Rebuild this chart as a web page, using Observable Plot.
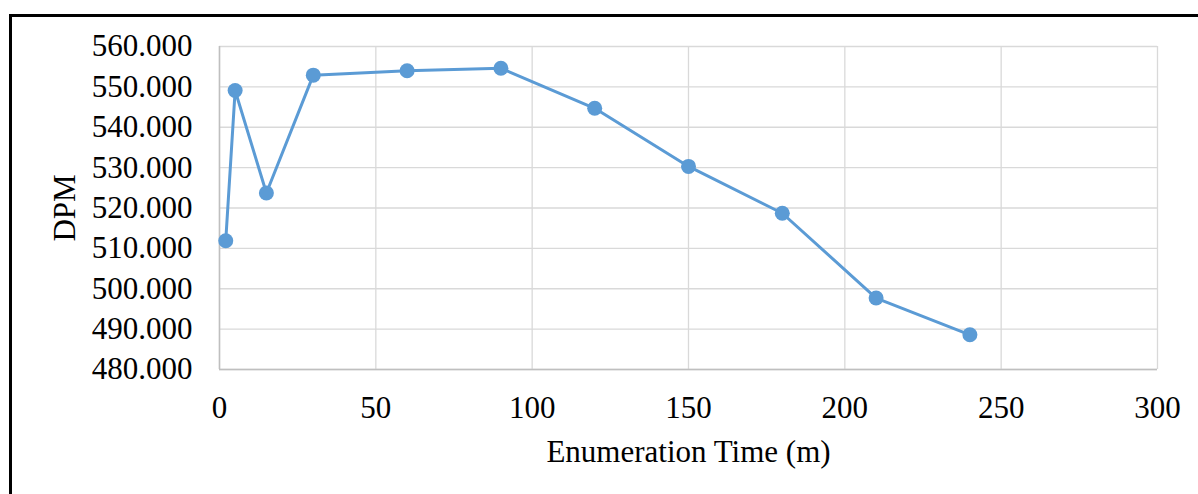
<!DOCTYPE html>
<html>
<head>
<meta charset="utf-8">
<script src="https://cdn.jsdelivr.net/npm/d3@7"></script>
<script src="https://cdn.jsdelivr.net/npm/@observablehq/plot@0.6"></script>
<style>
  html, body { margin: 0; padding: 0; background: #fff; overflow: hidden; }
  #wrap { position: relative; width: 1198px; height: 494px; overflow: hidden; }
  #frame { position: absolute; left: 9px; top: 14px; width: 3000px; height: 3000px;
           border-left: 3px solid #000; border-top: 3px solid #000; box-sizing: border-box; }
  #chart { position: absolute; left: 0; top: 0; }
  #chart svg text, #chart svg g { font-family: 'Liberation Serif', 'Times New Roman', serif !important; font-variant: normal !important; font-variant-numeric: normal !important; }
</style>
</head>
<body>
<div id="wrap"><div id="frame"></div><div id="chart"></div></div>
<script>
const times = [2, 5, 15, 30, 60, 90, 120, 150, 180, 210, 240];
const dpm = [511.9, 549.1, 523.7, 552.9, 554.0, 554.6, 544.7, 530.3, 518.7, 497.7, 488.6];
const xTicks = [0, 50, 100, 150, 200, 250, 300];
const yTicks = [480, 490, 500, 510, 520, 530, 540, 550, 560];

const data = times.map((t, i) => ({t, v: dpm[i]}));
const blue = "#5B9BD5";

const chart = Plot.plot({
  width: 1198,
  height: 494,
  marginLeft: 219,
  marginRight: 41,
  marginTop: 46,
  marginBottom: 125,
  style: {fontFamily: "'Liberation Serif', 'Times New Roman', serif", fontSize: "31px", color: "#000", background: "transparent"},
  x: {domain: [0, 300]},
  y: {domain: [480, 560]},
  marks: [
    Plot.gridX(xTicks, {stroke: "#D9D9D9", strokeOpacity: 1, strokeWidth: 1.3}),
    Plot.gridY(yTicks, {stroke: "#D9D9D9", strokeOpacity: 1, strokeWidth: 1.3}),
    Plot.ruleY([480], {stroke: "#BFBFBF", strokeWidth: 1.5}),
    Plot.ruleX([0], {stroke: "#BFBFBF", strokeWidth: 1.5}),
    Plot.axisX(xTicks, {tickSize: 0, tickPadding: 26, fontVariant: "normal", label: "Enumeration Time (m)", labelAnchor: "center", labelArrow: "none", labelOffset: 92, fill: "#000"}),
    Plot.axisY(yTicks, {tickSize: 0, tickPadding: 27, fontVariant: "normal", tickFormat: d => d.toFixed(3), label: "DPM", labelAnchor: "center", labelArrow: "none", labelOffset: 167, fill: "#000"}),
    Plot.line(data, {x: "t", y: "v", stroke: blue, strokeWidth: 3}),
    Plot.dot(data, {x: "t", y: "v", r: 7.5, fill: blue, stroke: "none"})
  ]
});
document.getElementById("chart").appendChild(chart);
</script>
</body>
</html>
